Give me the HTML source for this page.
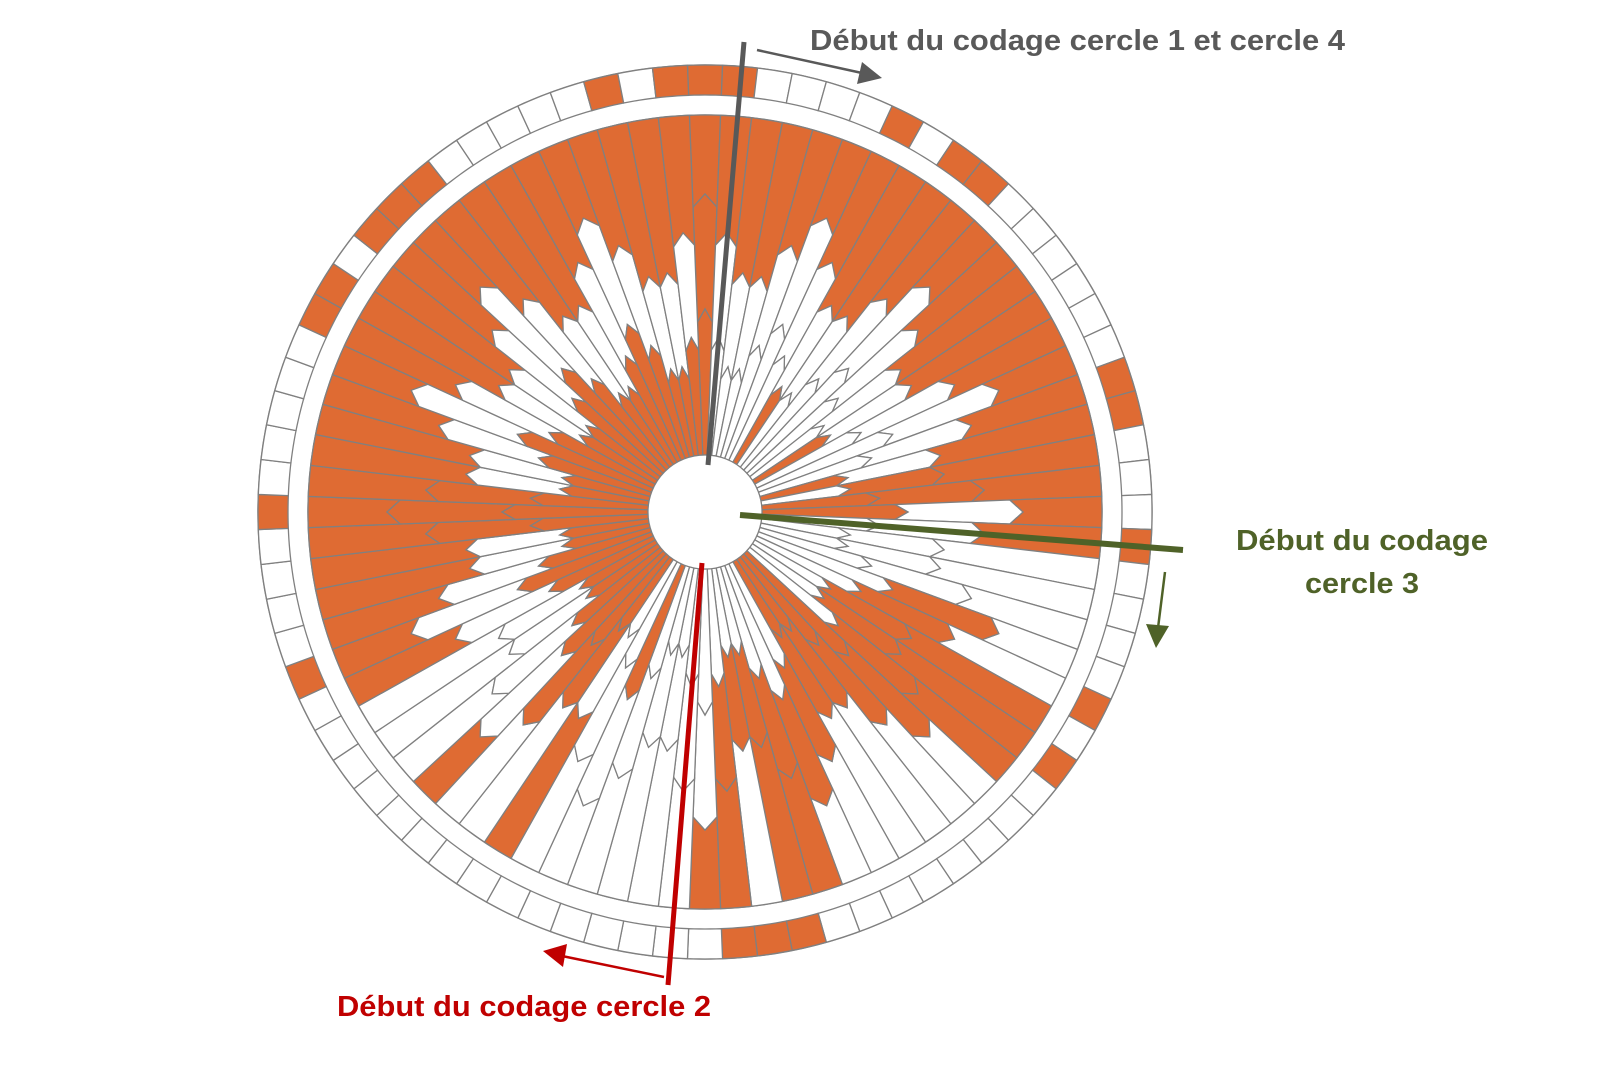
<!DOCTYPE html>
<html><head><meta charset="utf-8">
<style>
html,body{margin:0;padding:0;background:#fff;}
svg{display:block;}
text{font-family:"Liberation Sans",sans-serif;font-weight:bold;}
</style></head>
<body>
<svg id="s" width="1602" height="1083" viewBox="0 0 1602 1083" xmlns="http://www.w3.org/2000/svg">
<rect width="1602" height="1083" fill="#fff"/>
<g id="disc"></g>
<circle cx="705" cy="512" r="57" fill="#fff" stroke="#808080" stroke-width="1.2"/>
<line x1="744" y1="42" x2="708" y2="465" stroke="#595959" stroke-width="5"/>
<line x1="757" y1="50" x2="862" y2="73" stroke="#595959" stroke-width="2.5"/>
<polygon points="882,78 857,84 862,62" fill="#595959"/>
<text x="810" y="50" font-size="29" fill="#595959" textLength="535" lengthAdjust="spacingAndGlyphs">Début du codage cercle 1 et cercle 4</text>
<line x1="740" y1="515" x2="1183" y2="550" stroke="#4f6228" stroke-width="6"/>
<line x1="1165" y1="572" x2="1158" y2="628" stroke="#4f6228" stroke-width="2.5"/>
<polygon points="1156,648 1146,624 1169,626" fill="#4f6228"/>
<text x="1236" y="550" font-size="29" fill="#4f6228" textLength="252" lengthAdjust="spacingAndGlyphs">Début du codage</text>
<text x="1305" y="593" font-size="29" fill="#4f6228" textLength="114" lengthAdjust="spacingAndGlyphs">cercle 3</text>
<line x1="702" y1="563" x2="668" y2="985" stroke="#c00000" stroke-width="5"/>
<line x1="664" y1="977" x2="562" y2="956" stroke="#c00000" stroke-width="2.5"/>
<polygon points="543,951 567,944 563,967" fill="#c00000"/>
<text x="337" y="1016" font-size="29" fill="#c00000" textLength="374" lengthAdjust="spacingAndGlyphs">Début du codage cercle 2</text>
</svg>
<script>
(function(){
var cx=705,cy=512,N=80,step=360/N,O="#df6b33",W="#ffffff",L="#808080";
function P(r,a){var t=a*Math.PI/180;return (cx+r*Math.sin(t)).toFixed(2)+","+(cy-r*Math.cos(t)).toFixed(2);}
function set(a){var s={};a.forEach(function(x){if(Array.isArray(x)){for(var i=x[0];i<=x[1];i++)s[i]=1;}else s[x]=1;});return s;}
var ring=set([77,79,0,1,6,8,9,16,17,21,26,28,37,38,39,55,60,66,67,69,70,71]);
var c3=set([[0,21],[27,29],36,37,39,40,47,50,[54,79]]);
var c2=set([0,18,19,[25,39],48,49,[59,61]]);
var c1=set([0,7,13,17,19,20,[30,33],45,[48,79]]);
var g=document.getElementById("disc"),h="";
h+='<circle cx="'+cx+'" cy="'+cy+'" r="447" fill="#fff" stroke="'+L+'" stroke-width="1.5"/>';
for(var i=0;i<N;i++){
 var c=i*step,a0=c-step/2,a1=c+step/2,pts=[],k;
 for(k=0;k<=6;k++)pts.push(P(447,a0+(a1-a0)*k/6));
 for(k=6;k>=0;k--)pts.push(P(417,a0+(a1-a0)*k/6));
 h+='<polygon points="'+pts.join(" ")+'" fill="'+(ring[i]?O:W)+'" stroke="'+L+'" stroke-width="1.3"/>';
}
h+='<circle cx="'+cx+'" cy="'+cy+'" r="397" fill="#fff" stroke="'+L+'" stroke-width="1.5"/>';
var t=13;
for(var i=0;i<N;i++){
 var c=i*step,a0=c-step/2,a1=c+step/2,m=(i+2)%5,d=Math.abs(m-2);
 var r2=305-38*d,r1=190-28*d;
 var b1=[P(r1,a0),P(r1+t,c),P(r1,a1)], b2=[P(r2,a0),P(r2+t,c),P(r2,a1)];
 var outer=[],inner=[],k;
 for(k=0;k<=6;k++)outer.push(P(397,a0+(a1-a0)*k/6));
 for(k=6;k>=0;k--)inner.push(P(57,a0+(a1-a0)*k/6));
 h+='<polygon points="'+b2.join(" ")+" "+outer.slice().reverse().join(" ")+'" fill="'+(c3[i]?O:W)+'" stroke="'+L+'" stroke-width="1.3"/>';
 h+='<polygon points="'+b1.join(" ")+" "+b2.slice().reverse().join(" ")+'" fill="'+(c2[i]?O:W)+'" stroke="'+L+'" stroke-width="1.3"/>';
 h+='<polygon points="'+inner.join(" ")+" "+b1.join(" ")+'" fill="'+(c1[i]?O:W)+'" stroke="'+L+'" stroke-width="1.3"/>';
}
g.innerHTML=h;
})();
</script>
</body></html>
